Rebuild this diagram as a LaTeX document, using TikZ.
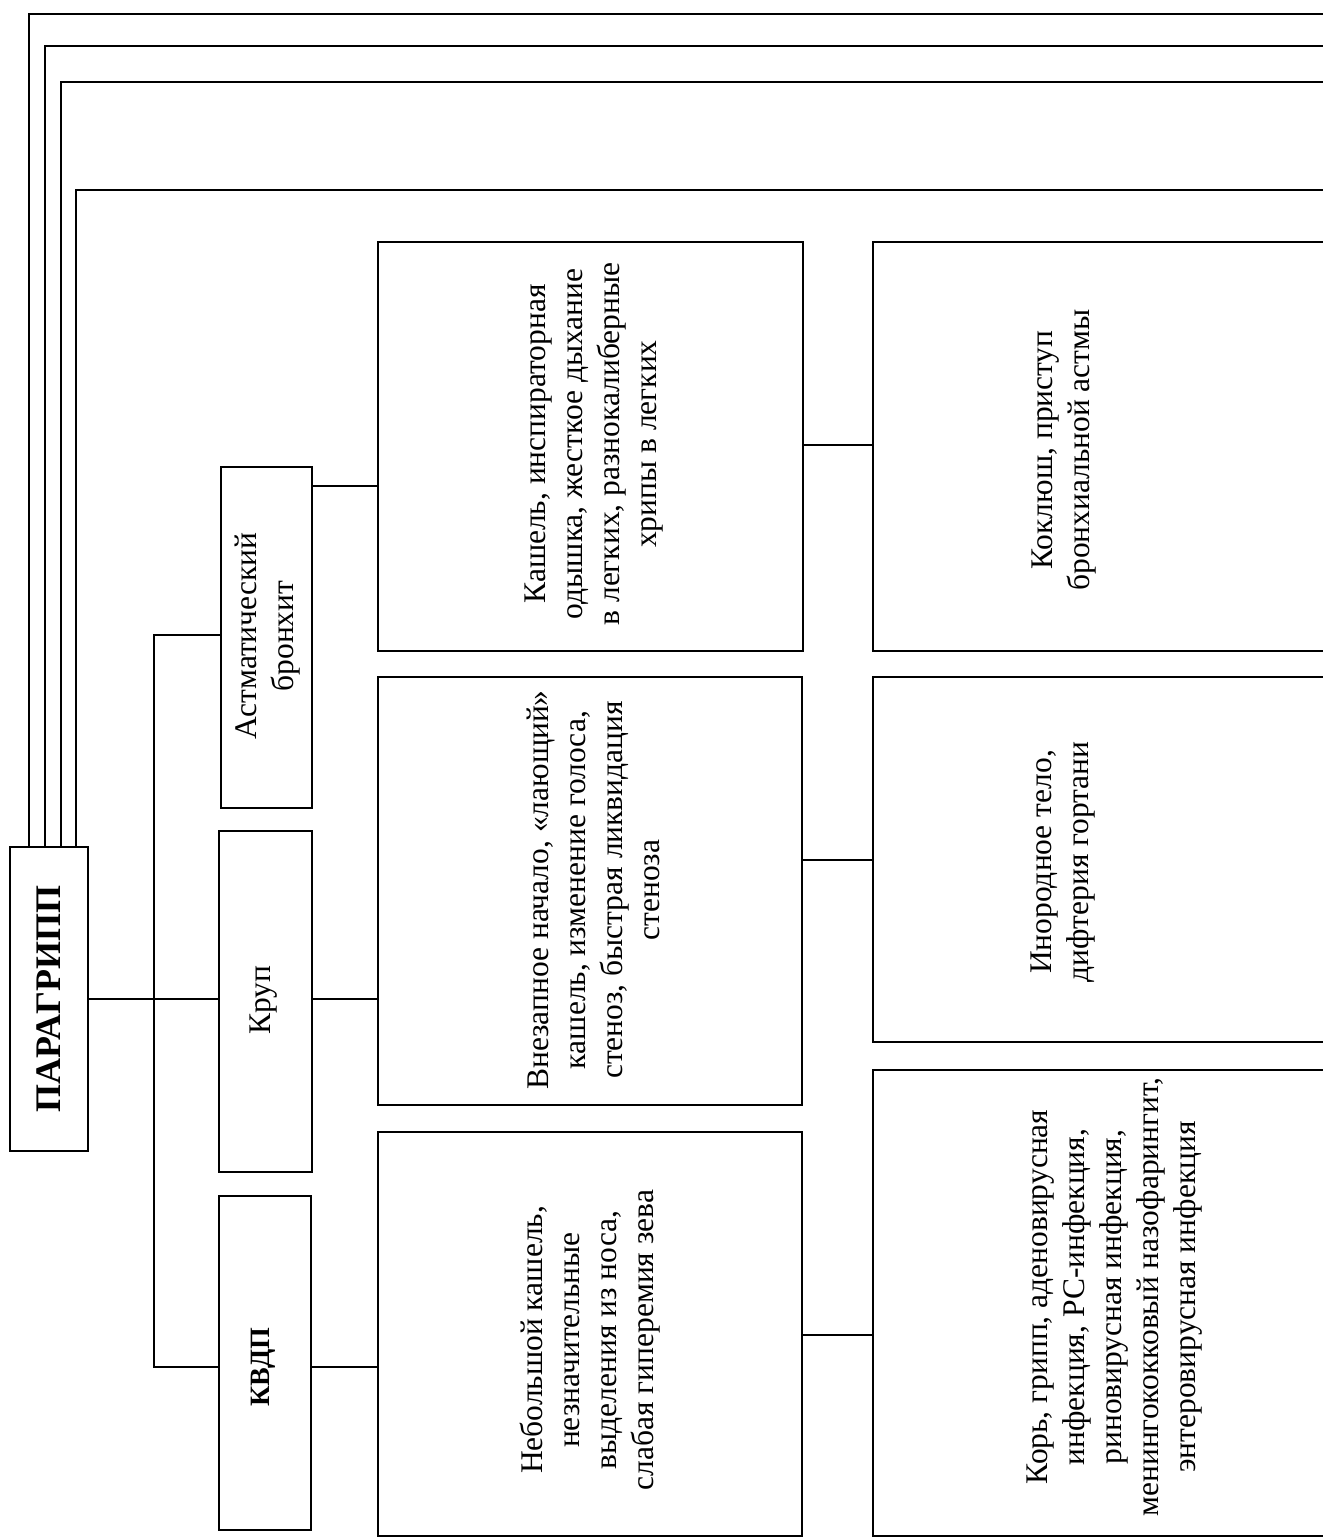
\documentclass[tikz,border=0pt]{standalone}
\usepackage{fontspec}
\setmainfont{Liberation Serif}
\begin{document}
\begin{tikzpicture}[x=1pt,y=-1pt,
  box/.style={draw=black, line width=2.6pt, fill=none, inner sep=0pt, outer sep=0pt},
  lbl/.style={rotate=90, align=center, inner sep=0pt, font=\fontsize{31.5}{37}\selectfont},
  ln/.style={line width=2.6pt, line cap=rect}]
\useasboundingbox (0,0) rectangle (1323,1540);
\fill[white] (0,0) rectangle (1323,1540);
% main boxes
\node[box, minimum width=78pt, minimum height=304pt] (par) at (49,999) {};
\node[box, minimum width=91pt, minimum height=341pt] (astm) at (266.5,637.5) {};
\node[box, minimum width=93pt, minimum height=341pt] (krup) at (265.5,1001.5) {};
\node[box, minimum width=92pt, minimum height=334pt] (kvdp) at (265,1363) {};
\node[box, minimum width=425pt, minimum height=409pt] (symA) at (590.5,446.5) {};
\node[box, minimum width=424pt, minimum height=428pt] (symK) at (590,891) {};
\node[box, minimum width=424pt, minimum height=404pt] (symV) at (590,1334) {};
\node[box, minimum width=467pt, minimum height=409pt] (dA) at (1106.5,446.5) {};
\node[box, minimum width=467pt, minimum height=365pt] (dK) at (1106.5,859.5) {};
\node[box, minimum width=467pt, minimum height=466pt] (dV) at (1106.5,1303) {};
% labels
\node[lbl, font=\fontsize{36}{42}\selectfont\bfseries] (parL) at (par) {ПАРАГРИПП};
\node[lbl] (astmL) at (268,636) {Астматический\\бронхит};
\node[lbl] (krupL) at (264,1000) {Круп};
\node[lbl, font=\fontsize{28}{34}\selectfont\bfseries] (kvdpL) at (263,1367) {КВДП};
\node[lbl] (symAL) at (594,444) {Кашель, инспираторная\\одышка, жесткое дыхание\\в легких, разнокалиберные\\хрипы в легких};
\node[lbl] (symKL) at (593,890) {Внезапное начало, «лающий»\\кашель, изменение голоса,\\стеноз, быстрая ликвидация\\стеноза};
\node[lbl] (symVL) at (590,1340) {Небольшой кашель,\\незначительные\\выделения из носа,\\слабая гиперемия зева};
\node[lbl] (dAL) at (1064,450) {Коклюш, приступ\\бронхиальной астмы};
\node[lbl] (dKL) at (1063,862) {Инородное тело,\\дифтерия гортани};
\node[lbl] (dVL) at (1115,1297) {Корь, грипп, аденовирусная\\инфекция, РС-инфекция,\\риновирусная инфекция,\\менингококковый назофарингит,\\энтеровирусная инфекция};
% free ends of the lines leaving the page
\coordinate (e1) at (1340,14);
\coordinate (e2) at (1340,46);
\coordinate (e3) at (1340,82);
\coordinate (e4) at (1340,190);
\coordinate (bus) at (154,999);
% lines from the top of ПАРАГРИПП
\draw[ln] (par.north -| 29,0) |- (e1);
\draw[ln] (par.north -| 45,0) |- (e2);
\draw[ln] (par.north -| 61,0) |- (e3);
\draw[ln] (par.north -| 76,0) |- (e4);
% bus
\draw[ln] (par.east) -- (bus);
\draw[ln] (astm.west |- 0,635) -| (bus |- 0,1367) -- (kvdp.west |- 0,1367);
\draw[ln] (bus) -- (krup.west |- bus);
% to symptoms
\draw[ln] (astm.east |- 0,486) -- (symA.west |- 0,486);
\draw[ln] (krup.east |- 0,999) -- (symK.west |- 0,999);
\draw[ln] (kvdp.east |- 0,1367) -- (symV.west |- 0,1367);
% to differentials
\draw[ln] (symA.east |- 0,445) -- (dA.west |- 0,445);
\draw[ln] (symK.east |- 0,860) -- (dK.west |- 0,860);
\draw[ln] (symV.east |- 0,1335) -- (dV.west |- 0,1335);
\end{tikzpicture}
\end{document}
